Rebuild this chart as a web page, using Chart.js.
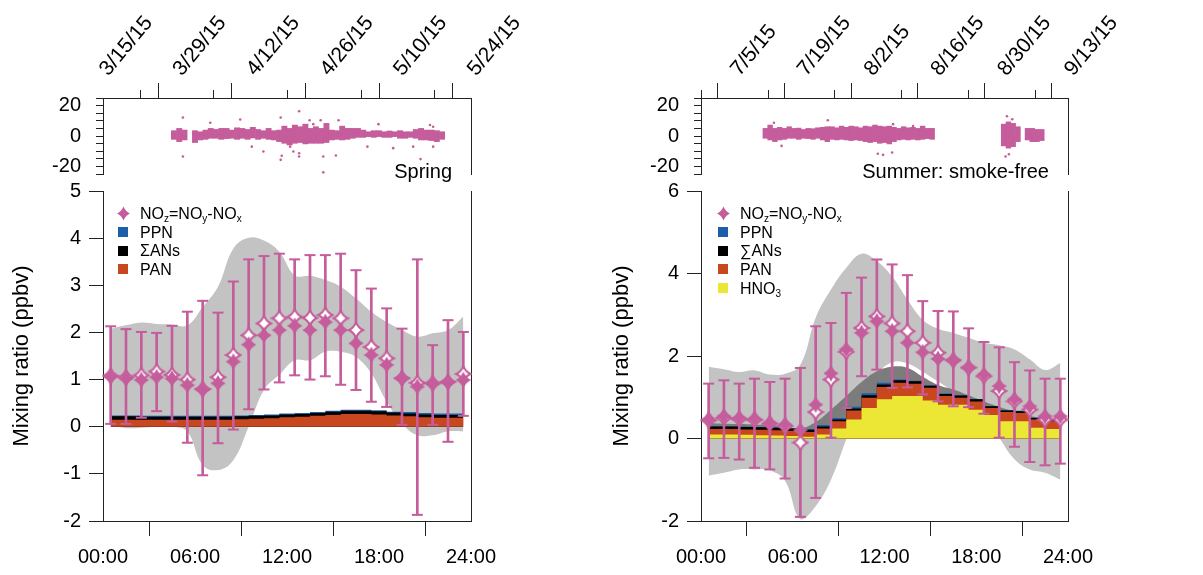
<!DOCTYPE html>
<html>
<head>
<meta charset="utf-8">
<title>NOz diurnal cycles, spring and summer 2015</title>
<script src="https://cdn.jsdelivr.net/npm/chart.js@4.4.1/dist/chart.umd.min.js"></script>
<style>
  html, body { margin: 0; padding: 0; background: #fff; }
  #page { position: relative; width: 1203px; height: 575px; overflow: hidden;
          font-family: "Liberation Sans", Arial, Helvetica, sans-serif; color: #000; }
  #page canvas.chart { position: absolute; }
  .row { position: absolute; font-size: 16px; line-height: 18px; white-space: nowrap; }
  .row sub { font-size: 10px; vertical-align: -3px; line-height: 0; }
  .swatch { position: absolute; width: 10px; height: 10px; }
  .season { position: absolute; font-size: 20px; line-height: 20px; white-space: nowrap; }
</style>
</head>
<body>
<div id="page">
  <canvas id="springTop" class="chart" width="600" height="180" style="left:0;top:0"></canvas>
  <canvas id="springDay" class="chart" width="600" height="399" style="left:0;top:176px"></canvas>
  <canvas id="summerTop" class="chart" width="603" height="180" style="left:600px;top:0"></canvas>
  <canvas id="summerDay" class="chart" width="603" height="399" style="left:600px;top:176px"></canvas>
  <div class="season" style="right:751px;top:161px">Spring</div>
  <div class="season" style="right:154px;top:161px">Summer: smoke-free</div>
</div>
<script>
// ---------- tick labels ----------
const springDateTicks = ['3/15/15', '3/29/15', '4/12/15', '4/26/15', '5/10/15', '5/24/15'];
const summerDateTicks = ['7/5/15', '7/19/15', '8/2/15', '8/16/15', '8/30/15', '9/13/15'];
const hourTicks = ['00:00', '06:00', '12:00', '18:00', '24:00'];

// ---------- hourly bins ----------
const hours = [0.5, 1.5, 2.5, 3.5, 4.5, 5.5, 6.5, 7.5, 8.5, 9.5, 10.5, 11.5,
               12.5, 13.5, 14.5, 15.5, 16.5, 17.5, 18.5, 19.5, 20.5, 21.5, 22.5, 23.5];

// ---------- spring diurnal (ppbv) ----------
const springNOz       = [1.06, 1.02, 0.99, 1.05, 1.02, 0.88, 0.78, 0.92, 1.38, 1.74, 1.94, 2.05, 2.14, 2.05, 2.22, 2.05, 1.77, 1.52, 1.31, 1.02, 0.85, 0.92, 0.95, 0.99];
const springNOzMedian = [1.08, 1.05, 1.09, 1.17, 1.10, 1.00, 0.80, 1.05, 1.52, 1.94, 2.19, 2.30, 2.33, 2.31, 2.37, 2.30, 2.05, 1.69, 1.45, 1.03, 0.93, 0.92, 0.95, 1.12];
const springErrHi     = [2.13, 2.07, 2.01, 1.99, 2.14, 2.44, 2.67, 2.42, 3.08, 3.55, 3.62, 3.67, 3.55, 3.64, 3.64, 3.67, 3.32, 2.93, 2.51, 2.08, 3.55, 1.73, 2.26, 2.01];
const springErrLo     = [0.06, 0.06, 0.19, 0.33, 0.11, -0.34, -1.03, -0.35, -0.06, 0.37, 0.79, 0.94, 1.09, 1.00, 1.07, 0.89, 0.78, 0.53, 0.42, 0.04, -1.87, 0.04, -0.32, 0.23];
const springBandHi    = [2.08, 2.15, 2.21, 2.18, 2.17, 2.15, 2.54, 2.97, 3.78, 4.01, 3.95, 3.71, 3.21, 3.20, 3.11, 2.97, 2.72, 2.44, 2.22, 2.05, 1.91, 1.98, 2.05, 2.34];
const springBandLo    = [0.04, -0.03, -0.02, 0.00, 0.00, -0.10, -0.81, -0.92, -0.71, 0.00, 0.78, 1.10, 1.41, 1.41, 1.59, 1.59, 1.48, 1.13, 0.53, 0.07, -0.18, -0.18, -0.10, -0.10];
const springPAN       = [0.15, 0.15, 0.15, 0.15, 0.15, 0.15, 0.15, 0.15, 0.16, 0.17, 0.18, 0.20, 0.21, 0.23, 0.25, 0.27, 0.27, 0.26, 0.24, 0.22, 0.20, 0.19, 0.19, 0.19];
const springANs       = [0.07, 0.07, 0.06, 0.06, 0.06, 0.06, 0.06, 0.06, 0.06, 0.06, 0.06, 0.06, 0.06, 0.06, 0.07, 0.07, 0.07, 0.07, 0.06, 0.06, 0.06, 0.06, 0.06, 0.06];
const springPPN       = [0.02, 0.02, 0.02, 0.02, 0.02, 0.02, 0.02, 0.02, 0.02, 0.02, 0.02, 0.02, 0.02, 0.02, 0.02, 0.02, 0.02, 0.02, 0.02, 0.03, 0.03, 0.03, 0.03, 0.03];

// ---------- summer diurnal (ppbv) ----------
const summerNOz       = [0.46, 0.54, 0.50, 0.48, 0.38, 0.34, 0.20, 0.82, 1.58, 2.16, 2.56, 2.84, 2.60, 2.32, 2.09, 1.93, 1.88, 1.71, 1.55, 1.27, 0.95, 0.78, 0.54, 0.54];
const summerNOzMedian = [0.44, 0.50, 0.47, 0.45, 0.36, 0.30, -0.10, 0.64, 1.43, 2.10, 2.68, 2.96, 2.79, 2.60, 2.32, 2.08, 1.90, 1.72, 1.51, 1.15, 0.90, 0.70, 0.46, 0.46];
const summerErrHi     = [1.33, 1.41, 1.33, 1.45, 1.37, 1.45, 1.71, 2.72, 2.80, 3.53, 3.90, 4.34, 4.22, 3.96, 3.33, 3.09, 3.08, 2.67, 2.34, 2.21, 1.85, 1.65, 1.45, 1.45];
const summerErrLo     = [-0.48, -0.47, -0.51, -0.71, -0.75, -0.97, -1.90, -1.44, 0.02, 0.74, 1.51, 1.67, 1.23, 1.24, 1.07, 0.90, 0.78, 0.76, 0.60, 0.02, -0.20, -0.57, -0.65, -0.61];
const summerBandHi    = [1.74, 1.68, 1.61, 1.65, 1.55, 1.57, 1.79, 2.93, 3.61, 4.14, 4.48, 4.30, 3.93, 3.37, 2.88, 2.66, 2.56, 2.44, 2.32, 2.26, 2.16, 1.92, 1.66, 1.83];
const summerBandLo    = [-0.90, -0.83, -0.75, -0.75, -0.77, -1.03, -1.96, -1.64, -1.00, -0.02, 0.90, 1.55, 1.85, 1.82, 1.62, 1.38, 1.15, 0.95, 0.55, 0.02, -0.50, -0.75, -0.83, -1.00];
const summerDarkHi    = [0.37, 0.36, 0.35, 0.34, 0.32, 0.28, 0.24, 0.40, 0.70, 1.03, 1.37, 1.63, 1.74, 1.71, 1.50, 1.30, 1.19, 1.05, 0.90, 0.77, 0.65, 0.55, 0.48, 0.45];
const summerHNO3      = [0.10, 0.10, 0.09, 0.08, 0.07, 0.06, 0.04, 0.10, 0.24, 0.46, 0.74, 0.95, 1.03, 1.03, 0.92, 0.82, 0.82, 0.70, 0.57, 0.42, 0.42, 0.26, 0.23, 0.23];
const summerPAN       = [0.13, 0.13, 0.13, 0.13, 0.13, 0.12, 0.12, 0.14, 0.18, 0.22, 0.25, 0.30, 0.32, 0.30, 0.31, 0.21, 0.17, 0.20, 0.17, 0.22, 0.20, 0.20, 0.19, 0.19];
const summerANs       = [0.06, 0.06, 0.06, 0.06, 0.06, 0.06, 0.05, 0.05, 0.04, 0.05, 0.06, 0.06, 0.06, 0.06, 0.05, 0.05, 0.05, 0.05, 0.04, 0.04, 0.04, 0.04, 0.04, 0.04];
const summerPPN       = [0.01, 0.01, 0.01, 0.01, 0.01, 0.01, 0.02, 0.04, 0.04, 0.04, 0.05, 0.04, 0.02, 0.01, 0.01, 0.01, 0.01, 0.01, 0.01, 0.01, 0.01, 0.01, 0.01, 0.01];

// ---------- time series, daily spread of NOz (days after 3/15 and 6/28) ----------
const springDays = [13, 14, 15, 17, 18, 19, 20, 21, 22, 23, 24, 25, 26, 27, 28, 29, 30, 31, 32, 33, 34, 35, 36, 37, 38, 39, 40,
                    41, 42, 43, 44, 45, 46, 47, 48, 49, 50, 51, 52, 53, 54, 55, 56, 57, 58, 59, 60, 61, 62, 63, 64];
const springHi   = [3.5, 5.0, 3.9, 3.5, 2.8, 3.9, 5.0, 4.3, 5.0, 5.0, 3.9, 5.4, 5.0, 4.3, 5.7, 4.3, 3.5, 5.0, 3.5, 3.9, 6.5, 5.0, 7.2, 6.1, 7.8, 5.0, 6.1,
                    5.0, 8.3, 3.9, 3.5, 6.5, 5.0, 5.0, 5.0, 3.9, 2.8, 3.5, 3.5, 2.8, 3.3, 2.8, 3.5, 2.8, 2.8, 4.3, 5.0, 3.9, 3.9, 3.5, 2.8];
const springLo   = [-2.2, -3.7, -2.6, -4.3, -2.6, -2.2, -1.5, -1.5, -2.2, -1.7, -1.5, -2.2, -1.5, -2.2, -1.3, -2.2, -1.5, -2.2, -2.6, -3.7, -4.8, -5.9, -4.8, -4.3, -5.2, -4.8, -4.8,
                    -4.8, -4.3, -2.6, -2.2, -2.6, -2.2, -1.5, -0.9, -0.9, -0.4, -0.9, -0.4, -0.9, -0.9, -0.4, -1.5, -1.5, -0.9, -1.5, -2.6, -2.6, -3.0, -3.7, -2.2];
const springOutliers = [[15.2, 12.2], [15.2, -13.5], [20.4, 8.7], [26.1, 10.9], [28.3, -7.0], [30.5, -10.2], [33.8, 12.2], [33.8, -15.7],
                        [34.0, -13.0], [35.6, -7.0], [36.2, -10.2], [37.3, 16.3], [37.3, -13.5], [37.3, -11.3], [39.3, 10.4], [40.0, 7.8],
                        [41.4, 10.4], [41.9, -13.5], [41.9, -23.9], [44.3, -12.8], [44.8, 10.4], [50.3, -7.0], [52.4, 7.8], [55.2, -8.0],
                        [59.0, -7.0], [60.4, -15.2], [62.2, 7.2], [62.8, -7.0], [62.8, 6.1]];

const summerDays = [13, 14, 15, 16, 17, 18, 19, 20, 21, 22, 23, 24, 25, 26, 27, 28, 29, 30, 31, 32, 33, 34, 35, 36, 37, 38,
                    39, 40, 41, 42, 43, 44, 45, 46, 47, 48, 63, 64, 65, 66, 68, 69, 70, 71];
const summerHi   = [5.0, 7.2, 5.0, 5.7, 5.0, 6.1, 5.0, 5.2, 4.3, 5.0, 4.8, 5.4, 5.7, 6.1, 6.1, 5.4, 6.5, 5.7, 6.5, 6.1, 5.4, 6.5, 6.1, 7.2, 6.5, 6.1,
                    6.5, 5.7, 5.0, 6.1, 5.4, 5.7, 5.0, 6.5, 5.0, 5.0, 7.8, 9.3, 8.3, 6.1, 5.0, 5.0, 4.3, 4.3];
const summerLo   = [-1.5, -2.6, -3.7, -2.6, -2.2, -1.5, -1.5, -2.2, -1.5, -1.7, -2.2, -1.5, -2.6, -3.7, -2.2, -2.6, -2.2, -2.6, -3.0, -2.6, -3.0, -3.7, -4.3, -3.7, -4.8, -4.3,
                    -5.2, -3.7, -2.6, -2.2, -2.6, -2.2, -2.6, -2.2, -1.7, -2.2, -6.5, -8.0, -7.0, -3.7, -2.6, -3.7, -3.7, -3.0];
const summerOutliers = [[15.3, 8.7], [16.9, -6.5], [26.6, 10.4], [37.1, -11.7], [38.2, -12.4], [40.1, -10.9], [40.3, 7.8],
                        [44.5, 6.5], [64.2, 13.0], [63.9, -13.5], [64.6, -12.0], [65.3, 11.0]];

// ---------- colours ----------
const PINK = '#c55c9b';
const LIGHT = '#c3c3c3';
const DARK = '#7c7c7c';
const C_PPN = '#1b5ea9';
const C_ANS = '#000000';
const C_PAN = '#c8471f';
const C_HNO3 = '#ece735';
const AXIS = '#222';
const TICK_FONT = { family: "'Liberation Sans', Arial, Helvetica, sans-serif", size: 20 };
const DATE_FONT = { family: TICK_FONT.family, size: 21 };

Chart.defaults.font.family = TICK_FONT.family;
Chart.defaults.font.size = 20;
Chart.defaults.color = '#000';
Chart.defaults.animation = false;
Chart.defaults.events = [];
Chart.defaults.plugins.legend.display = false;
Chart.defaults.plugins.tooltip.enabled = false;

// four pointed marker, filled or open
function starCanvas(filled, size) {
  const c = document.createElement('canvas');
  c.width = c.height = size;
  const g = c.getContext('2d');
  const m = size / 2;
  const r = filled ? m - 0.6 : m - 1.4;
  const k = r * 0.3;
  g.beginPath();
  g.moveTo(m, m - r);
  g.quadraticCurveTo(m + k, m - k, m + r * 0.92, m);
  g.quadraticCurveTo(m + k, m + k, m, m + r);
  g.quadraticCurveTo(m - k, m + k, m - r * 0.92, m);
  g.quadraticCurveTo(m - k, m - k, m, m - r);
  g.closePath();
  if (filled) {
    g.fillStyle = PINK;
    g.fill();
  } else {
    g.fillStyle = '#fff';
    g.fill();
    g.lineWidth = 2;
    g.strokeStyle = PINK;
    g.stroke();
  }
  return c;
}
const starFilled = starCanvas(true, 18);
const starOpen = starCanvas(false, 18);

// keep the plot area exactly where the layout puts it
function noPad(s) {
  s.paddingTop = 0;
  s.paddingBottom = 0;
  s.paddingLeft = 0;
  s.paddingRight = 0;
}

// plain right-hand frame line
function frameRight() {
  return {
    position: 'right', min: 0, max: 1,
    ticks: { display: false },
    grid: { display: true, drawOnChartArea: false, drawTicks: false },
    border: { display: true, color: AXIS, width: 1 },
    afterFit: s => { s.width = 0; noPad(s); }
  };
}

// short unlabeled weekly ticks on the date axis
const minorTicks = {
  id: 'minorTicks',
  afterDraw(chart) {
    const sx = chart.scales.x;
    const ctx = chart.ctx;
    ctx.save();
    ctx.strokeStyle = AXIS;
    ctx.lineWidth = 1;
    sx.ticks.forEach(t => {
      if (t.label) return;
      const px = Math.round(sx.getPixelForValue(t.value)) + 0.5;
      ctx.beginPath();
      ctx.moveTo(px, sx.bottom);
      ctx.lineTo(px, sx.bottom - 8);
      ctx.stroke();
    });
    ctx.restore();
  }
};

function makeTimeline(id, cfg) {
  return new Chart(document.getElementById(id), {
    type: 'bar',
    data: {
      datasets: [
        {
          type: 'bar',
          data: cfg.days.map((d, i) => ({ x: d + 0.5, y: [cfg.lo[i], cfg.hi[i]] })),
          backgroundColor: PINK,
          borderWidth: 0,
          barPercentage: 1,
          categoryPercentage: 1,
          grouped: false,
          order: 2
        },
        {
          type: 'scatter',
          data: cfg.outliers.map(p => ({ x: p[0], y: p[1] })),
          pointRadius: 1.3,
          pointBackgroundColor: PINK,
          pointBorderWidth: 0,
          showLine: false,
          order: 1
        }
      ]
    },
    options: {
      responsive: false,
      layout: { padding: { left: 0, right: cfg.padRight, top: 0, bottom: 6 } },
      scales: {
        x: {
          type: 'linear', position: 'top', min: 0, max: cfg.span, offset: false,
          ticks: {
            stepSize: 7, autoSkip: false, minRotation: 50, maxRotation: 50, padding: 2,
            labelOffset: 20, font: DATE_FONT,
            callback: v => ((v - cfg.first) % 14 === 0 ? cfg.labels[(v - cfg.first) / 14] : '')
          },
          grid: {
            drawOnChartArea: false, tickLength: 15,
            color: c => (c.tick && c.tick.label ? AXIS : 'rgba(0,0,0,0)')
          },
          border: { color: AXIS },
          afterFit: s => { s.height = 98; noPad(s); }
        },
        y: {
          min: -25, max: 25,
          ticks: { stepSize: 5, autoSkip: false, padding: 15, font: TICK_FONT, callback: v => (v % 20 === 0 ? v : '') },
          grid: { drawOnChartArea: false, tickLength: 7, color: AXIS },
          border: { color: AXIS },
          afterFit: s => { s.width = cfg.axisLeft; noPad(s); }
        },
        yR: frameRight()
      }
    },
    plugins: [minorTicks]
  });
}

function makeDiurnal(id, cfg) {
  const pts = arr => hours.map((h, i) => ({ x: h, y: arr[i] }));
  const datasets = [];

  // spread of NOz
  datasets.push({
    type: 'line', data: pts(cfg.bandHi), borderWidth: 0, pointRadius: 0, tension: 0.4,
    fill: '+1', backgroundColor: LIGHT, order: 30
  });
  datasets.push({
    type: 'line', data: pts(cfg.bandLo), borderWidth: 0, pointRadius: 0, tension: 0.4,
    fill: false, order: 30
  });

  if (cfg.darkHi) {
    datasets.push({
      type: 'line', data: pts(cfg.darkHi), borderWidth: 0, pointRadius: 0, tension: 0.4,
      fill: 'origin', backgroundColor: DARK, order: 25
    });
  }

  // stacked species, bottom layer first; each cumulative top is filled to zero
  let running = hours.map(() => 0);
  const tops = cfg.stack.map(layer => {
    running = running.map((v, i) => v + layer.data[i]);
    return { color: layer.color, data: running.slice() };
  });
  tops.forEach((t, k) => {
    datasets.push({
      type: 'line', data: pts(t.data), borderWidth: 0, pointRadius: 0, stepped: 'before',
      fill: 'origin', backgroundColor: t.color, order: 10 + k
    });
  });

  // error bars and caps
  datasets.push({
    type: 'bar',
    data: hours.map((h, i) => ({ x: h, y: [cfg.errLo[i], cfg.errHi[i]] })),
    backgroundColor: PINK, borderWidth: 0, barThickness: 2, grouped: false, order: 5
  });
  datasets.push({
    type: 'line', showLine: false, clip: false,
    data: pts(cfg.errHi).concat(pts(cfg.errLo)),
    pointStyle: 'line', pointRadius: 5.5, pointBorderWidth: 2, pointBorderColor: PINK,
    order: 4
  });

  // markers
  datasets.push({
    type: 'line', showLine: false, clip: false, data: pts(cfg.median),
    pointStyle: starOpen, pointRadius: 8, order: 3
  });
  datasets.push({
    type: 'line', showLine: false, clip: false, data: pts(cfg.noz),
    pointStyle: starFilled, pointRadius: 8, order: 2
  });

  return new Chart(document.getElementById(id), {
    type: 'line',
    data: { datasets },
    options: {
      responsive: false,
      layout: { padding: { left: 0, right: cfg.padRight, top: 15, bottom: 0 } },
      scales: {
        x: {
          type: 'linear', min: 0, max: 24, offset: false,
          ticks: { stepSize: 6, autoSkip: false, maxRotation: 0, padding: 9, font: TICK_FONT, callback: v => hourTicks[v / 6] },
          grid: { drawOnChartArea: false, tickLength: 15, color: AXIS },
          border: { color: AXIS },
          afterFit: s => { s.height = 54; noPad(s); }
        },
        y: {
          min: cfg.yMin, max: cfg.yMax,
          ticks: { stepSize: cfg.yStep, autoSkip: false, padding: 8, font: TICK_FONT },
          grid: { drawOnChartArea: false, tickLength: 14, color: AXIS },
          border: { color: AXIS },
          title: { display: true, text: 'Mixing ratio (ppbv)', font: { size: 22 }, padding: { top: 9 } },
          afterFit: s => { s.width = cfg.axisLeft; noPad(s); }
        },
        yR: frameRight()
      }
    }
  });
}

// ---------- legends ----------
function addLegend(symX, textX, rows) {
  const page = document.getElementById('page');
  rows.forEach((row, i) => {
    const base = 219.3 + i * 18.7;
    const mid = base - 6;
    if (row.star) {
      const c = starCanvas(true, 15);
      c.style.cssText = `position:absolute;left:${symX - 7.5}px;top:${mid - 7.5}px`;
      page.appendChild(c);
    } else {
      const s = document.createElement('div');
      s.className = 'swatch';
      s.style.cssText = `left:${symX - 5}px;top:${mid - 5}px;background:${row.color}`;
      page.appendChild(s);
    }
    const t = document.createElement('div');
    t.className = 'row';
    t.style.left = textX + 'px';
    t.style.top = (base - 14.5) + 'px';
    t.innerHTML = row.html;
    page.appendChild(t);
  });
}

const nozLabel = 'NO<sub>z</sub>=NO<sub>y</sub>-NO<sub>x</sub>';

makeTimeline('springTop', {
  days: springDays, hi: springHi, lo: springLo, outliers: springOutliers,
  span: 70, first: 0, labels: springDateTicks, axisLeft: 103, padRight: 129
});
makeTimeline('summerTop', {
  days: summerDays, hi: summerHi, lo: summerLo, outliers: summerOutliers,
  span: 77, first: 7, labels: summerDateTicks, axisLeft: 101, padRight: 135
});

makeDiurnal('springDay', {
  noz: springNOz, median: springNOzMedian, errHi: springErrHi, errLo: springErrLo,
  bandHi: springBandHi, bandLo: springBandLo,
  stack: [
    { data: springPAN, color: C_PAN },
    { data: springANs, color: C_ANS },
    { data: springPPN, color: C_PPN }
  ],
  yMin: -2, yMax: 5, yStep: 1, axisLeft: 103, padRight: 129
});
makeDiurnal('summerDay', {
  noz: summerNOz, median: summerNOzMedian, errHi: summerErrHi, errLo: summerErrLo,
  bandHi: summerBandHi, bandLo: summerBandLo, darkHi: summerDarkHi,
  stack: [
    { data: summerHNO3, color: C_HNO3 },
    { data: summerPAN, color: C_PAN },
    { data: summerANs, color: C_ANS },
    { data: summerPPN, color: C_PPN }
  ],
  yMin: -2, yMax: 6, yStep: 2, axisLeft: 101, padRight: 135
});

addLegend(123, 140, [
  { star: true, html: nozLabel },
  { color: C_PPN, html: 'PPN' },
  { color: C_ANS, html: 'ΣANs' },
  { color: C_PAN, html: 'PAN' }
]);
addLegend(723, 740, [
  { star: true, html: nozLabel },
  { color: C_PPN, html: 'PPN' },
  { color: C_ANS, html: '∑ANs' },
  { color: C_PAN, html: 'PAN' },
  { color: C_HNO3, html: 'HNO<sub>3</sub>' }
]);
</script>
</body>
</html>
